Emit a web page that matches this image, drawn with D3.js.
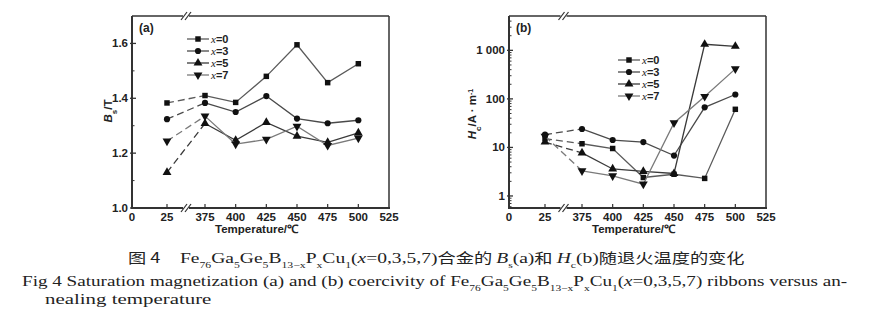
<!DOCTYPE html>
<html><head><meta charset="utf-8">
<script src="https://cdn.jsdelivr.net/npm/d3@7"></script>
<style>
body{margin:0;background:#fff;}
svg{display:block;}
</style></head>
<body>
<svg id="c" width="874" height="326"></svg>
<script>
const temps = [25, 375, 400, 425, 450, 475, 500];
const seriesNames = ["0", "3", "5", "7"];
const bsX0 = [1.383, 1.410, 1.385, 1.480, 1.595, 1.457, 1.526];
const bsX3 = [1.324, 1.383, 1.350, 1.408, 1.326, 1.309, 1.320];
const bsX5 = [1.130, 1.308, 1.247, 1.312, 1.262, 1.239, 1.274];
const bsX7 = [1.244, 1.335, 1.233, 1.250, 1.298, 1.228, 1.255];
const hcX0 = [15.2, 11.9, 9.5, 2.4, 2.8, 2.3, 61];
const hcX3 = [18.4, 24, 14.2, 12.9, 6.8, 67, 123];
const hcX5 = [12.9, 7.7, 3.6, 3.2, 2.9, 1334, 1211];
const hcX7 = [17, 3.3, 2.6, 1.75, 32, 112, 415];
const xTicks = [0, 25, 375, 400, 425, 450, 475, 500, 525];
const bsTicks = [1.0, 1.2, 1.4, 1.6];
const hcTicks = [1, 10, 100, 1000];
const hcTickLabels = ["1", "10", "100", "1 000"];

const svg = d3.select("#c");
const markerTypes = [d3.symbolSquare, d3.symbolCircle, d3.symbolTriangle, d3.symbolTriangle];
const markerRot = [0, 0, 0, 180];
const markerSize = [30, 30, 34, 34];
const lineCols = ["#5a5a5a", "#4a4a4a", "#3a3a3a", "#7a7a7a"];
const tickFont = "bold 11.5px 'Liberation Sans', Arial, sans-serif";

function drawPanel(opt) {
  const g = svg.append("g");
  const x = d3.scaleLinear().domain([0, 25, 375, 525]).range(opt.xr);
  const y = opt.y;
  const [x0, x1] = [opt.xr[0], opt.xr[3]];
  const [yb, yt] = [y.range()[0], y.range()[1]];
  const breakX = (x(25) + x(375)) / 2;

  opt.data.forEach((vals, si) => {
    const pts = temps.map((t, i) => [x(t), y(vals[i])]);
    g.append("path").attr("d", d3.line()(pts.slice(0, 2)))
      .attr("fill", "none").attr("stroke", lineCols[si]).attr("stroke-width", 1.3)
      .attr("stroke-dasharray", "7,4");
    g.append("path").attr("d", d3.line()(pts.slice(1)))
      .attr("fill", "none").attr("stroke", lineCols[si]).attr("stroke-width", 1.3);
    pts.forEach(p => {
      g.append("path").attr("d", d3.symbol().type(markerTypes[si]).size(markerSize[si])())
        .attr("transform", `translate(${p[0]},${p[1]}) rotate(${markerRot[si]})`)
        .attr("fill", "#111");
    });
  });

  const ax = g.append("g").attr("stroke", "#333").attr("fill", "none");
  ax.append("line").attr("x1", x0).attr("x2", x0).attr("y1", yt).attr("y2", yb).attr("stroke-width", 2);
  ax.append("line").attr("x1", x0 - 1).attr("x2", x1 + 1).attr("y1", yb).attr("y2", yb).attr("stroke-width", 2);
  ax.append("line").attr("x1", x0).attr("x2", x1).attr("y1", yt).attr("y2", yt).attr("stroke-width", 1.5);
  ax.append("line").attr("x1", x1).attr("x2", x1).attr("y1", yt).attr("y2", yb).attr("stroke-width", 1.5);

  [yb, yt].forEach(yy => {
    g.append("rect").attr("x", breakX - 3).attr("y", yy - 3).attr("width", 6).attr("height", 6).attr("fill", "#fff");
    [-2, 2].forEach(d => {
      g.append("line").attr("x1", breakX + d - 3).attr("y1", yy + 4).attr("x2", breakX + d + 3).attr("y2", yy - 4)
        .attr("stroke", "#333").attr("stroke-width", 1.2);
    });
  });

  xTicks.forEach(t => {
    if (t !== 0 && t !== 525) g.append("line").attr("x1", x(t)).attr("x2", x(t)).attr("y1", yb).attr("y2", yb - 4)
      .attr("stroke", "#333").attr("stroke-width", 1.2);
    g.append("text").attr("x", x(t)).attr("y", yb + 13).attr("text-anchor", "middle")
      .style("font", tickFont).attr("fill", "#222").text(t);
  });
  g.append("text").attr("x", (x0 + x1) / 2 - 4).attr("y", yb + 25).attr("text-anchor", "middle")
    .style("font", "bold 11.5px 'Liberation Sans', Arial, sans-serif").attr("fill", "#222").text("Temperature/℃");

  opt.yMinor.forEach(v => {
    g.append("line").attr("x1", x0).attr("x2", x0 + 2.5).attr("y1", y(v)).attr("y2", y(v)).attr("stroke", "#333").attr("stroke-width", 1);
  });
  opt.yTicks.forEach((v, i) => {
    g.append("line").attr("x1", x0 - 2).attr("x2", x0 + 4).attr("y1", y(v)).attr("y2", y(v)).attr("stroke", "#333").attr("stroke-width", 1.3);
    g.append("text").attr("x", x0 - 4).attr("y", y(v) + 4).attr("text-anchor", "end")
      .style("font", tickFont).attr("fill", "#222").text(opt.yLabels[i]);
  });

  g.append("text").attr("x", x0 + 7).attr("y", yt + 16).style("font", "bold 12px 'Liberation Sans', Arial, sans-serif").attr("fill", "#222").text(opt.tag);

  seriesNames.forEach((n, i) => {
    const ly = opt.leg[1] + i * opt.leg[2];
    const lx = opt.leg[0];
    g.append("line").attr("x1", lx).attr("x2", lx + 22).attr("y1", ly).attr("y2", ly).attr("stroke", lineCols[i]).attr("stroke-width", 1.3);
    g.append("path").attr("d", d3.symbol().type(markerTypes[i]).size(markerSize[i])())
      .attr("transform", `translate(${lx + 11},${ly}) rotate(${markerRot[i]})`).attr("fill", "#111");
    const t = g.append("text").attr("x", lx + 24).attr("y", ly + 4).style("font", "bold 11px 'Liberation Sans', Arial, sans-serif").attr("fill", "#222");
    t.append("tspan").style("font-style", "italic").style("font-family", "'Liberation Serif', serif").style("font-weight", "normal").text("x");
    t.append("tspan").text("=" + n);
  });

  const yt2 = g.append("text").attr("transform", `translate(${opt.ytx},${opt.yty}) rotate(-90)`).attr("text-anchor", "middle")
    .style("font", "bold 11.5px 'Liberation Sans', Arial, sans-serif").attr("fill", "#222");
  opt.yTitle(yt2);
}

drawPanel({
  xr: [132, 167, 205, 389],
  y: d3.scaleLinear().domain([1.0, 1.7]).range([208, 16]),
  data: [bsX0, bsX3, bsX5, bsX7],
  yTicks: bsTicks, yLabels: ["1.0", "1.2", "1.4", "1.6"],
  yMinor: [1.1, 1.3, 1.5],
  tag: "(a)",
  leg: [187, 39, 12],
  ytx: 112, yty: 111,
  yTitle: t => {
    t.append("tspan").style("font-style", "italic").text("B");
    t.append("tspan").attr("baseline-shift", "sub").style("font-size", "8px").text("s");
    t.append("tspan").text("/T");
  }
});

const hcMinor = [];
[0.1, 1, 10, 100, 1000].forEach(d => { for (let k = 2; k <= 9; k++) { const v = d * k; if (v > 0.57 && v < 5000) hcMinor.push(v); } });
drawPanel({
  xr: [509, 545, 582, 766],
  y: d3.scaleLog().domain([0.565, 5100]).range([208, 16]),
  data: [hcX0, hcX3, hcX5, hcX7],
  yTicks: hcTicks, yLabels: hcTickLabels,
  yMinor: hcMinor,
  tag: "(b)",
  leg: [618, 60, 12],
  ytx: 476, yty: 114,
  yTitle: t => {
    t.append("tspan").style("font-style", "italic").text("H");
    t.append("tspan").attr("baseline-shift", "sub").style("font-size", "8px").text("c");
    t.append("tspan").text("/A · m");
    t.append("tspan").attr("baseline-shift", "super").style("font-size", "7px").text("-1");
  }
});

const serif = "'Liberation Serif', 'Times New Roman', serif";
const cjk = "'Noto Sans CJK SC', sans-serif";
function cap(x0, x1, yb, parts) {
  const t = svg.append("text").attr("x", 0).attr("y", 0).style("font-family", serif).style("font-size", "15px").attr("fill", "#222");
  parts.forEach(p => {
    const s = t.append("tspan").text(p[0]);
    if (p[1] === "sub") s.attr("baseline-shift", "sub").style("font-size", "9px");
    if (p[1] === "it") s.style("font-style", "italic");
    if (p[1] === "cjk") s.style("font-family", cjk).style("font-size", "14px");
  });
  const w = t.node().getBBox().width;
  t.attr("transform", `translate(${x0},${yb}) scale(${(x1 - x0) / w},1)`);
}
cap(128, 745, 263, [["图 4", "cjk"], ["\u2003Fe"], ["76", "sub"], ["Ga"], ["5", "sub"], ["Ge"], ["5", "sub"], ["B"], ["13\u2212x", "sub"], ["P"], ["x", "sub"], ["Cu"], ["1", "sub"], ["("], ["x", "it"], ["=0,3,5,7)"], ["合金的 ", "cjk"], ["B", "it"], ["s", "sub"], ["(a)"], ["和 ", "cjk"], ["H", "it"], ["c", "sub"], ["(b)"], ["随退火温度的变化", "cjk"]]);
cap(22, 848, 286, [["Fig 4 Saturation magnetization (a) and (b) coercivity of Fe"], ["76", "sub"], ["Ga"], ["5", "sub"], ["Ge"], ["5", "sub"], ["B"], ["13\u2212x", "sub"], ["P"], ["x", "sub"], ["Cu"], ["1", "sub"], ["("], ["x", "it"], ["=0,3,5,7) ribbons versus an-"]]);
cap(45, 212, 304, [["nealing temperature"]]);
</script>
</body></html>
